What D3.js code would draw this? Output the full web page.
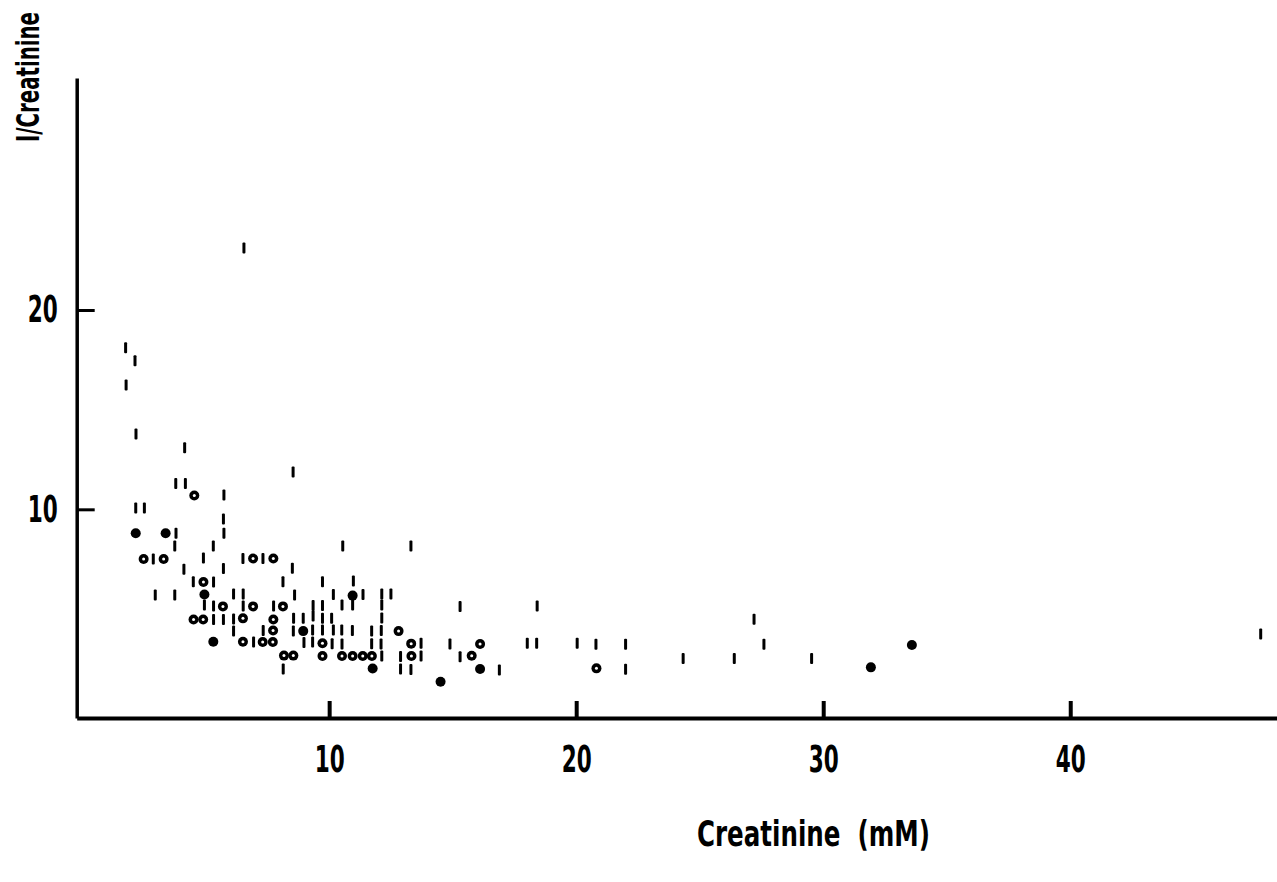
<!DOCTYPE html>
<html>
<head>
<meta charset="utf-8">
<script src="https://cdn.jsdelivr.net/npm/d3@7"></script>
<style>
  body { margin: 0; background: #fff; }
  svg { display: block; }
  text { font-family: "DejaVu Sans", sans-serif; font-weight: bold; fill: #000; }
</style>
</head>
<body>
<div id="chart"></div>
<script>
// plot size, same as the window
const W = 1277
const H = 882

// axis ticks
var xTicks = [10, 20, 30, 40]
var yTicks = [10, 20]

// samples shown as short vertical bars  [creatinine, I/creatinine]
var dashes = [
  [6.55,23.11],[1.76,18.11],[2.14,17.46],[1.78,16.24],[2.18,13.78],[4.15,13.09],[8.54,11.87],
  [3.79,11.30],[4.18,11.30],[5.74,10.72],[2.17,10.07],[2.52,10.07],[5.72,9.51],[3.80,8.80],
  [5.74,8.80],[3.75,8.16],[5.31,8.16],[10.55,8.16],[13.31,8.16],[2.88,7.51],[4.91,7.56],
  [6.51,7.53],[7.32,7.53],[4.12,6.99],[5.72,7.03],[8.51,7.04],[4.50,6.37],[5.32,6.35],
  [8.13,6.37],[9.73,6.37],[10.98,6.40],[2.96,5.70],[3.75,5.70],[6.13,5.75],[6.52,5.75],
  [8.60,5.70],[10.17,5.73],[11.37,5.73],[12.13,5.75],[12.50,5.75],[4.95,5.20],[5.32,5.15],
  [6.52,5.15],[7.75,5.15],[9.35,5.17],[9.73,5.17],[10.52,5.20],[10.95,5.20],[12.13,5.20],
  [15.30,5.12],[18.42,5.15],[5.32,4.47],[5.72,4.47],[6.13,4.50],[6.13,3.89],[8.56,4.53],
  [8.95,4.53],[9.35,4.65],[9.73,4.53],[10.10,4.53],[12.13,4.55],[27.20,4.48],[7.33,3.92],
  [8.55,3.89],[9.33,3.94],[9.73,3.94],[10.17,3.94],[10.51,3.94],[10.94,3.92],[11.72,3.89],
  [12.11,3.92],[47.71,3.74],[6.94,3.34],[8.98,3.32],[9.33,3.34],[10.12,3.26],[10.52,3.24],
  [11.72,3.26],[12.10,3.24],[13.72,3.28],[14.89,3.24],[18.02,3.28],[18.40,3.28],[20.04,3.28],
  [20.80,3.23],[22.00,3.23],[27.60,3.23],[12.13,2.64],[12.89,2.62],[13.72,2.64],[15.30,2.60],
  [24.33,2.52],[26.40,2.52],[29.53,2.52],[8.14,1.99],[12.89,1.99],[13.31,1.96],[16.89,1.94],
  [22.00,1.97]
]

// open circles
var openDots = [
  [4.54,10.69],[2.49,7.51],[3.30,7.51],[6.92,7.53],[7.74,7.53],[4.91,6.35],[5.70,5.13],
  [6.92,5.13],[8.13,5.13],[4.51,4.47],[4.90,4.47],[6.51,4.53],[7.74,4.47],[7.73,3.92],
  [6.51,3.36],[7.31,3.34],[7.72,3.34],[8.17,2.66],[8.55,2.66],[12.81,3.89],[9.73,3.28],
  [13.32,3.26],[16.11,3.24],[9.73,2.64],[10.52,2.64],[10.95,2.64],[11.36,2.64],[11.73,2.64],
  [13.33,2.64],[15.77,2.65],[20.82,2.02]
]

// filled circles
var filledDots = [
  [2.17,8.80],[3.38,8.80],[4.95,5.73],[8.95,3.89],[5.31,3.36],[10.95,5.67],[11.76,2.01],
  [14.51,1.35],[16.11,1.99],[31.93,2.07],[33.59,3.19]
]

var svg = d3.select("#chart")
  .append("svg")
  .attr("width", W)
  .attr("height", H)

svg.append("rect").attr("width", W).attr("height", H).attr("fill", "#fff")

// scales - axis lines sit at the ends of the ranges
var x = d3.scaleLinear()
  .domain([-0.22, 48.37])
  .range([76.7, 1277])

var y = d3.scaleLinear()
  .domain([-0.47, 31.64])
  .range([718, 78])

// x axis, ticks point up into the plot
var gx = svg.append("g")
  .attr("transform", "translate(0," + y.range()[0] + ")")
  .call(d3.axisBottom(x).tickValues(xTicks).tickSize(-17).tickSizeOuter(0).tickPadding(28))
gx.select(".domain").attr("stroke", "#000").attr("stroke-width", 4)
gx.selectAll(".tick line").attr("stroke", "#000").attr("stroke-width", 4)
gx.selectAll(".tick text")
  .attr("font-size", 37)
  .attr("font-family", null)
  .attr("textLength", 30)
  .attr("lengthAdjust", "spacingAndGlyphs")

// y axis, ticks point right
var gy = svg.append("g")
  .attr("transform", "translate(" + x.range()[0] + ",0)")
  .call(d3.axisLeft(y).tickValues(yTicks).tickSize(-18).tickSizeOuter(0).tickPadding(19))
gy.select(".domain").attr("stroke", "#000").attr("stroke-width", 3.5)
gy.selectAll(".tick line").attr("stroke", "#000").attr("stroke-width", 3)
gy.selectAll(".tick text")
  .attr("font-size", 37)
  .attr("font-family", null)
  .attr("textLength", 30)
  .attr("lengthAdjust", "spacingAndGlyphs")

// axis titles
svg.append("text")
  .attr("x", 697)
  .attr("y", 846)
  .attr("font-size", 36)
  .attr("textLength", 233)
  .attr("lengthAdjust", "spacingAndGlyphs")
  .text("Creatinine\u00a0\u00a0(mM)")

svg.append("text")
  .attr("transform", "translate(39,142) rotate(-90)")
  .attr("font-size", 32)
  .attr("textLength", 130)
  .attr("lengthAdjust", "spacingAndGlyphs")
  .text("I/Creatinine")

// marks
var marks = svg.append("g")

marks.selectAll(".dash")
  .data(dashes)
  .enter()
  .append("rect")
    .attr("class", "dash")
    .attr("x", function(d){ return x(d[0]) - 1.5 })
    .attr("y", function(d){ return y(d[1]) - 5.5 })
    .attr("width", 3)
    .attr("height", 11)
    .attr("rx", 1)
    .attr("fill", "#000")

marks.selectAll(".filled")
  .data(filledDots)
  .enter()
  .append("circle")
    .attr("class", "filled")
    .attr("cx", function(d){ return x(d[0]) })
    .attr("cy", function(d){ return y(d[1]) })
    .attr("r", 5)
    .attr("fill", "#000")

// open circle = black disc with a small white centre
var open = marks.selectAll(".open")
  .data(openDots)
  .enter()
  .append("g")
    .attr("class", "open")
    .attr("transform", function(d){ return "translate(" + x(d[0]) + "," + y(d[1]) + ")" })
open.append("circle").attr("r", 5).attr("fill", "#000")
open.append("circle").attr("r", 1.5).attr("fill", "#fff")
</script>
</body>
</html>
